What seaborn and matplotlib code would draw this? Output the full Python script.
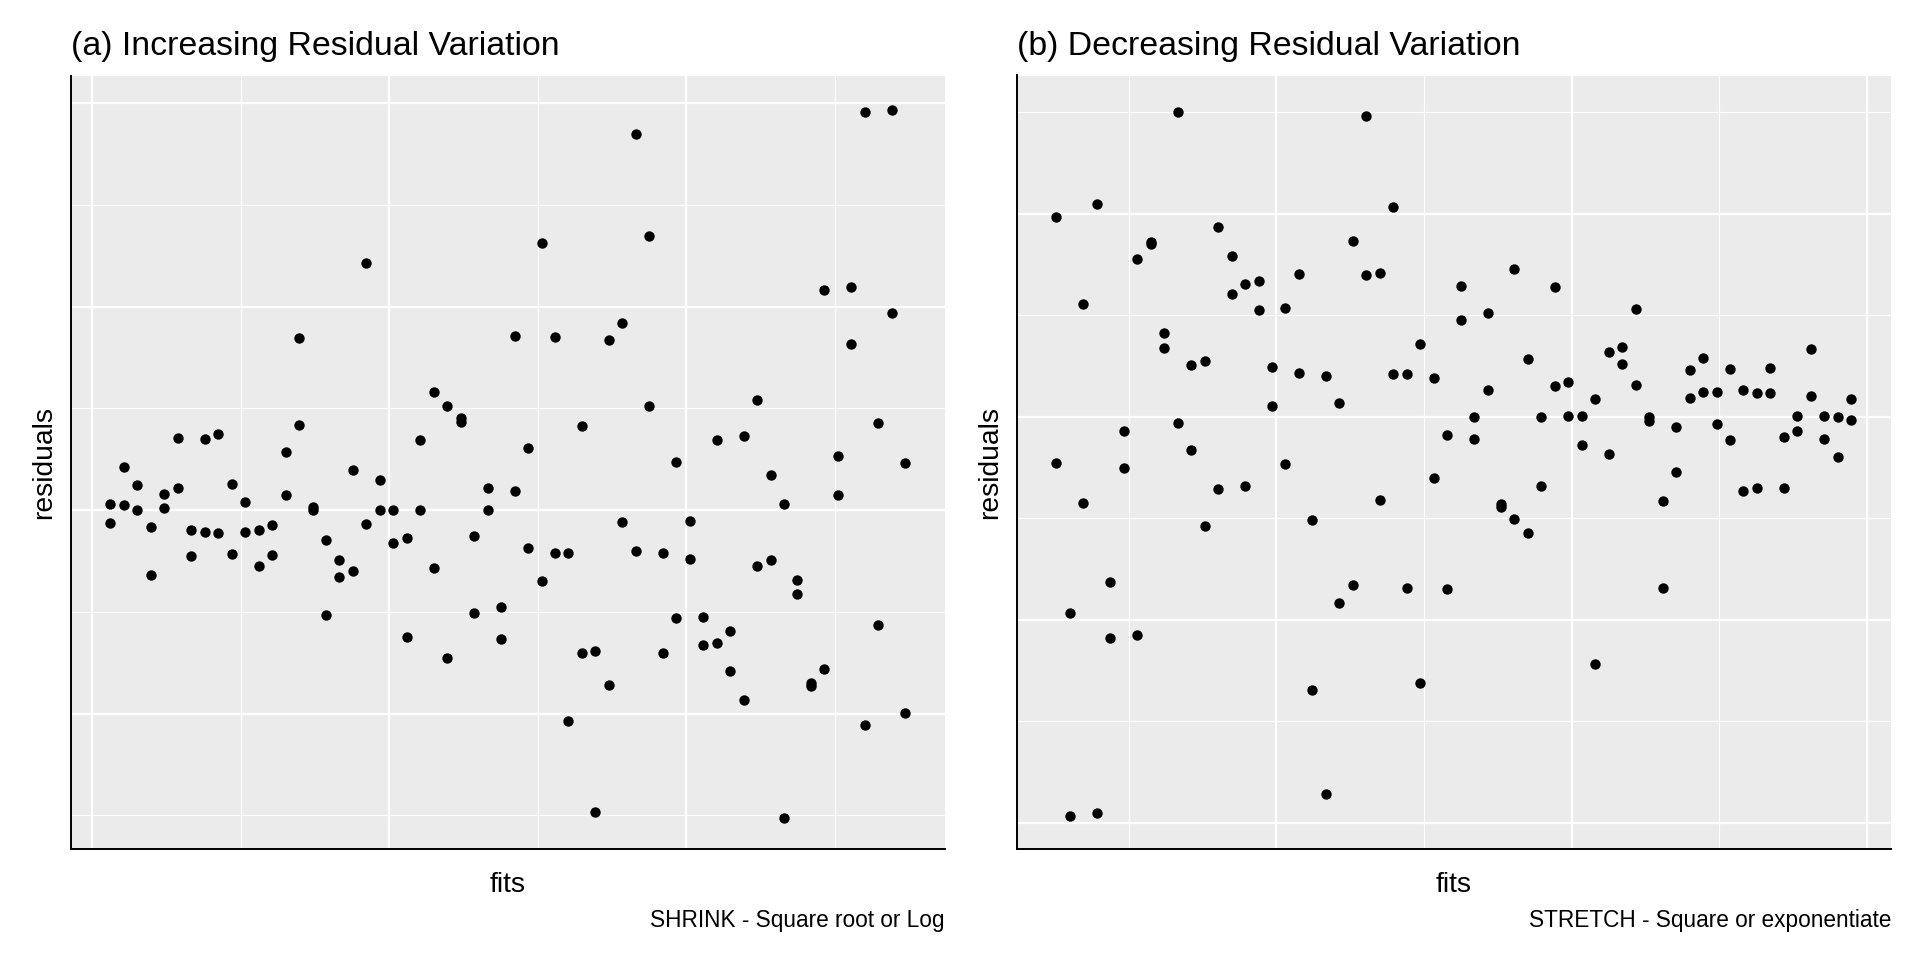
import matplotlib
matplotlib.use("Agg")
import matplotlib.pyplot as plt
import seaborn as sns
import pandas as pd

# ---------------- data ----------------
fits = list(range(1, 61))

# panel (a): two residuals per fitted value
resid_a_1 = [0.06, 0.42, 0.25, -0.17, 0.16, 0.71, -0.20, 0.70, 0.75, 0.26,
             0.08, -0.20, -0.15, 0.57, 1.69, 0.03, -0.29, -0.49, 0.39, 2.43,
             0.30, 0.00, -0.27, 0.69, 1.16, 1.02, 0.90, -0.25, 0.22, -0.95,
             1.71, 0.61, 2.62, 1.70, -0.42, 0.83, -1.38, 1.67, 1.84, 3.70,
             2.69, -0.42, 0.47, -0.11, -1.05, 0.69, -1.19, 0.73, 1.08, 0.34,
             0.06, -0.69, -1.73, 2.16, 0.53, 2.19, 3.91, 0.86, 3.93, 0.46]
resid_a_2 = [-0.13, 0.05, 0.00, -0.64, 0.02, 0.22, -0.45, -0.22, -0.23, -0.43,
             -0.22, -0.55, -0.44, 0.15, 0.84, 0.00, -1.03, -0.66, -0.60, -0.14,
             0.00, -0.32, -1.25, 0.00, -0.57, -1.45, 0.87, -1.01, 0.00, -1.27,
             0.19, -0.37, -0.70, -0.42, -2.07, -1.40, -2.97, -1.72, -0.12, -0.40,
             1.02, -1.40, -1.06, -0.48, -1.33, -1.31, -1.58, -1.87, -0.55, -0.49,
             -3.03, -0.82, -1.70, -1.56, 0.15, 1.63, -2.11, -1.13, 1.94, -1.99]

# panel (b)
resid_b_1 = [1.97, -1.94, 1.11, 2.09, -1.63, -0.14, 1.55, 1.72, 0.82, 3.00,
             0.51, 0.55, 1.87, 1.58, 1.31, 1.34, 0.49, 1.07, 1.40, -1.02,
             0.40, 0.13, 1.73, 2.96, 1.41, 2.06, 0.42, 0.71, 0.38, -0.18,
             1.29, 0.00, 1.02, -0.86, 1.45, 0.57, 0.00, 1.28, 0.34, 0.01,
             0.17, 0.64, 0.69, 1.06, 0.00, -0.83, -0.10, 0.46, 0.58, 0.24,
             0.47, 0.26, 0.23, 0.48, -0.20, 0.01, 0.67, 0.01, -0.40, -0.03]
resid_b_2 = [-0.46, -3.93, -0.85, -3.91, -2.18, -0.51, -2.15, 1.70, 0.68, -0.06,
             -0.33, -1.08, -0.71, 1.21, -0.68, 1.05, 0.10, -0.47, 0.43, -2.69,
             -3.72, -1.84, -1.66, 1.39, -0.82, 0.42, -1.69, -2.62, -0.61, -1.70,
             0.95, -0.22, 0.26, -0.89, -1.01, -1.15, -0.68, 0.30, 0.01, -0.28,
             -2.44, -0.37, 0.52, 0.31, -0.04, -1.69, -0.55, 0.18, 0.24, -0.07,
             -0.23, -0.73, -0.70, 0.23, -0.70, -0.14, 0.20, -0.22, 0.00, 0.17]

titles = ["(a) Increasing Residual Variation", "(b) Decreasing Residual Variation"]
captions = ["SHRINK - Square root or Log", "STRETCH - Square or exponentiate"]

# axis breaks (in the units of the data above)
xmajor_a = [-0.34, 21.70, 43.73]
xminor_a = [10.68, 32.71, 54.75]
xmajor_b = [17.33, 39.25, 61.17]
xminor_b = [6.37, 28.29, 50.21]
ymajor_a = [-2, 0, 2, 4]
yminor_a = [-3, -1, 1, 3]
ymajor_b = [-4, -2, 0, 2]
yminor_b = [-3, -1, 1, 3]

df_a = pd.DataFrame({"fits": fits + fits, "residuals": resid_a_1 + resid_a_2})
df_b = pd.DataFrame({"fits": fits + fits, "residuals": resid_b_1 + resid_b_2})

# ---------------- figure ----------------
sns.set_style("white")
plt.rcParams["font.family"] = ["Liberation Sans", "DejaVu Sans"]
plt.rcParams["text.color"] = "black"

W, H = 1920, 960
fig = plt.figure(figsize=(W / 100, H / 100), dpi=100)
fig.patch.set_facecolor("white")

TOP, BOT = 75.5, 849.0
panels = [(70.7, 945.0), (1016.7, 1891.0)]

def add_panel(l, r):
    return fig.add_axes([l / W, 1 - BOT / H, (r - l) / W, (BOT - TOP) / H])

setups = [
    (df_a, xmajor_a, xminor_a, ymajor_a, yminor_a, (-3.33, 4.27)),
    (df_b, xmajor_b, xminor_b, ymajor_b, yminor_b, (-4.26, 3.36)),
]

for k, ((l, r), (df, xmj, xmn, ymj, ymn, ylim)) in enumerate(zip(panels, setups)):
    ax = add_panel(l, r)
    ax.set_facecolor("#EBEBEB")
    sns.scatterplot(data=df, x="fits", y="residuals", ax=ax, color="black",
                    s=56, linewidth=0, zorder=3)
    ax.set_xlim(-1.95, 62.95)
    ax.set_ylim(*ylim)
    ax.set_xticks(xmj)
    ax.set_xticks(xmn, minor=True)
    ax.set_yticks(ymj)
    ax.set_yticks(ymn, minor=True)
    ax.grid(which="major", color="white", linewidth=1.6)
    ax.grid(which="minor", color="white", linewidth=0.8)
    ax.set_axisbelow(True)
    ax.tick_params(which="both", length=0, labelbottom=False, labelleft=False)
    for s in ["top", "right"]:
        ax.spines[s].set_visible(False)
    for s in ["left", "bottom"]:
        ax.spines[s].set_color("black")
        ax.spines[s].set_linewidth(1.4)
    ax.set_xlabel("")
    ax.set_ylabel("")

    # texts
    fig.text(l / W, 1 - 55 / H, titles[k], fontsize=24.4, color="black",
             ha="left", va="baseline")
    fig.text((l + r) / 2 / W, 1 - 892 / H, "fits", fontsize=20.3, color="black",
             ha="center", va="baseline")
    fig.text((l - 26.5) / W, 1 - (TOP + BOT) / 2 / H, "residuals", fontsize=20.3,
             color="black", rotation=90, ha="center", va="center")
    fig.text(r / W, 1 - 927 / H, captions[k], fontsize=16.3, color="black",
             ha="right", va="baseline")

fig.savefig("out.png", dpi=100, facecolor="white")
